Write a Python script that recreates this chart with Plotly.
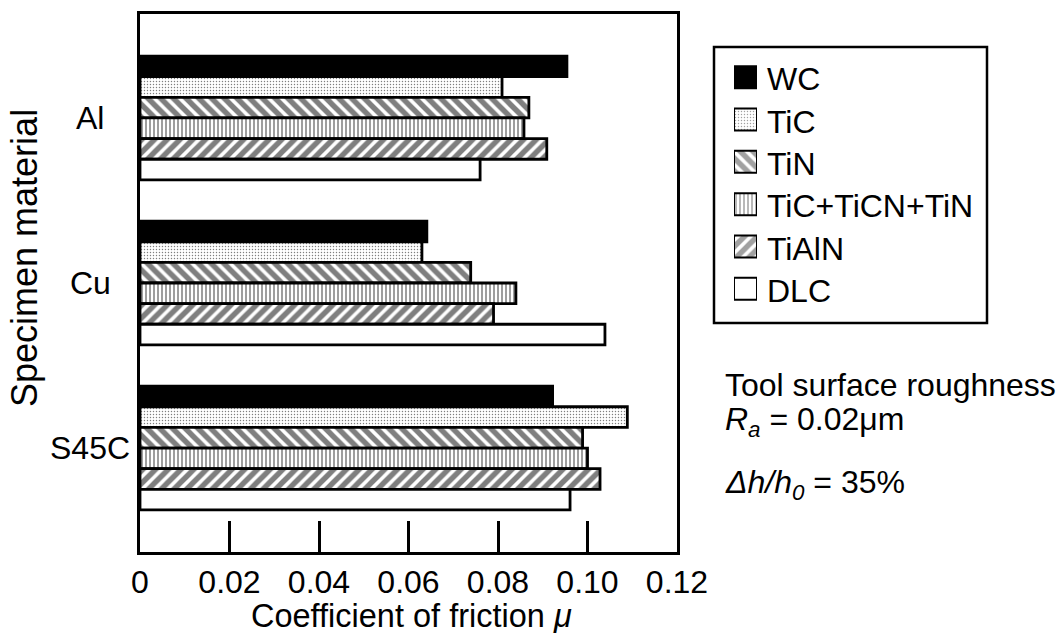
import plotly.graph_objects as go

materials = ["Al", "Cu", "S45C"]
coatings = ["WC", "TiC", "TiN", "TiC+TiCN+TiN", "TiAlN", "DLC"]
friction = {
    "WC":           [0.0954, 0.0641, 0.0922],
    "TiC":          [0.0809, 0.0630, 0.1089],
    "TiN":          [0.0869, 0.0739, 0.0989],
    "TiC+TiCN+TiN": [0.0858, 0.0840, 0.1000],
    "TiAlN":        [0.0909, 0.0790, 0.1028],
    "DLC":          [0.0760, 0.1039, 0.0961],
}
x_ticks = [0, 0.02, 0.04, 0.06, 0.08, 0.10, 0.12]
x_ticklabels = ["0", "0.02", "0.04", "0.06", "0.08", "0.10", "0.12"]

# fill styles: (fill colour, pattern shape, pattern size, solidity)
fills = {
    "WC":           ("black", "", 8, 0.5),
    "TiC":          ("white", ".", 3, 0.18),
    "TiN":          ("white", "\\", 9, 0.6),
    "TiC+TiCN+TiN": ("white", "|", 4, 0.38),
    "TiAlN":        ("white", "/", 9, 0.6),
    "DLC":          ("white", "", 8, 0.5),
}

FONT = "Liberation Sans, Arial, sans-serif"
W, H = 1062, 634

def px(xp):
    return xp / W

def py(yp):
    return 1 - yp / H

def marker_for(cs, line_w):
    one = len(cs) == 1
    col = [fills[c][0] for c in cs]
    shp = [fills[c][1] for c in cs]
    siz = [fills[c][2] for c in cs]
    sol = [fills[c][3] for c in cs]
    pick = (lambda v: v[0]) if one else (lambda v: v)
    return dict(color=pick(col),
                line=dict(color="black", width=line_w),
                pattern=dict(shape=pick(shp), size=pick(siz), solidity=pick(sol),
                             fgcolor="black", bgcolor=pick(col)))

fig = go.Figure()
for c in coatings:
    fig.add_trace(go.Bar(
        y=materials, x=friction[c], name=c, orientation="h",
        marker=marker_for([c], 2.8), showlegend=False,
    ))

# legend swatches, drawn as bars on a small auxiliary axis pair
fig.add_trace(go.Bar(
    y=coatings, x=[1] * len(coatings), orientation="h",
    xaxis="x2", yaxis="y2", width=0.52, showlegend=False,
    marker=marker_for(coatings, 2), hoverinfo="skip",
))

fig.update_layout(
    width=W, height=H,
    margin=dict(l=0, r=0, t=0, b=0),
    paper_bgcolor="white", plot_bgcolor="white",
    barmode="group", bargap=0.25, bargroupgap=0,
    font=dict(family=FONT, size=32, color="black"),
    showlegend=False,
    xaxis=dict(
        domain=[px(140), px(677)],
        range=[0, 0.12], tickvals=x_ticks, ticktext=x_ticklabels,
        ticks="inside", ticklen=31, tickwidth=3, tickcolor="black",
        showline=True, linewidth=3, linecolor="black", mirror=True,
        showgrid=False, zeroline=False, automargin=False,
        ticklabelstandoff=0,
        tickfont=dict(family=FONT, size=32, color="black"),
    ),
    yaxis=dict(
        domain=[py(552), py(14)],
        categoryorder="array", categoryarray=materials,
        range=[2.63, -0.63],
        showticklabels=False, ticks="",
        showline=True, linewidth=3, linecolor="black", mirror=True,
        showgrid=False, zeroline=False, automargin=False,
    ),
    xaxis2=dict(domain=[px(734), px(757)], range=[0, 1], anchor="y2",
                visible=False, fixedrange=True),
    yaxis2=dict(domain=[py(310), py(56)], anchor="x2",
                categoryorder="array", categoryarray=coatings,
                range=[5.5, -0.5], visible=False, fixedrange=True),
)

# Legend frame
fig.add_shape(type="rect", xref="paper", yref="paper",
              x0=px(714), x1=px(987), y0=py(323), y1=py(47),
              line=dict(color="black", width=2.5), fillcolor="rgba(0,0,0,0)")

# Legend labels
for c in coatings:
    fig.add_annotation(x=px(765), y=c, xref="paper", yref="y2", text=c,
                       showarrow=False, xanchor="left", yanchor="middle",
                       yshift=-2,
                       font=dict(family=FONT, size=32, color="black"))

# Category labels (centered, as in the reference)
for m in materials:
    fig.add_annotation(x=px(90), y=m, xref="paper", yref="y", text=m,
                       showarrow=False, xanchor="center", yanchor="middle",
                       font=dict(family=FONT, size=32, color="black"))

# Axis titles
fig.add_annotation(x=px(24), y=py(258), xref="paper", yref="paper",
                   text="Specimen material", textangle=-90, showarrow=False,
                   xanchor="center", yanchor="middle",
                   font=dict(family=FONT, size=36, color="black"))
fig.add_annotation(x=px(411), y=py(616), xref="paper", yref="paper",
                   text="Coefficient of friction <i>μ</i>", showarrow=False,
                   xanchor="center", yanchor="middle", borderpad=0,
                   font=dict(family=FONT, size=32.5, color="black"))

# Condition notes
fig.add_annotation(x=px(723), y=py(385), xref="paper", yref="paper",
                   text="Tool surface roughness", showarrow=False,
                   xanchor="left", yanchor="middle",
                   font=dict(family=FONT, size=32, color="black"))
fig.add_annotation(x=px(723), y=py(421), xref="paper", yref="paper",
                   text="<i>R</i><sub><i>a</i></sub> = 0.02μm", showarrow=False,
                   xanchor="left", yanchor="middle",
                   font=dict(family=FONT, size=32, color="black"))
fig.add_annotation(x=px(723), y=py(484), xref="paper", yref="paper",
                   text="<i>Δh/h</i><sub><i>0</i></sub> = 35%", showarrow=False,
                   xanchor="left", yanchor="middle",
                   font=dict(family=FONT, size=32, color="black"))

fig.write_html("out.html", config={"displayModeBar": False},
               post_script="document.body.style.margin='0';")
